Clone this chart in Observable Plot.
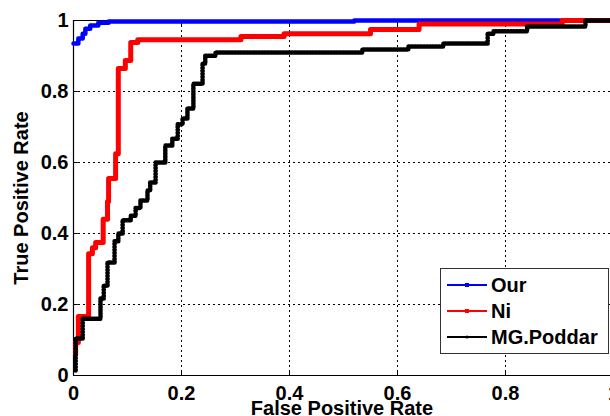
<!DOCTYPE html>
<html>
<head>
<meta charset="utf-8">
<script src="https://cdn.jsdelivr.net/npm/d3@7"></script>
<script src="https://cdn.jsdelivr.net/npm/@observablehq/plot@0.6"></script>
<style>
  html, body { margin: 0; padding: 0; background: #fff; overflow: hidden; }
  #wrap { position: relative; width: 610px; height: 416px; }
  #legend { position: absolute; left: 440px; top: 268px; width: 167px; height: 84px;
    border: 1px solid #333; background: #fff; box-sizing: content-box;
    font: bold 20px "Liberation Sans", Arial, sans-serif; color: #000; }
  .row { position: absolute; left: 0; height: 26px; display: flex; align-items: center; }
  .row svg { margin-left: 6px; margin-right: 4px; }
</style>
</head>
<body>
<div id="wrap"><div id="chart"></div><div id="legend"></div></div>
<script>
// ---- data ----
const seriesNames = ["Our", "Ni", "MG.Poddar"];
const seriesColors = ["#0000ff", "#ff0000", "#000000"];

const ourFPR = [0, 0.009, 0.017, 0.022, 0.031, 0.046, 0.065, 0.52, 1];
const ourTPR = [0.935, 0.949, 0.963, 0.977, 0.986, 0.994, 0.997, 1.0, 1.0];

const niFPR = [0.004, 0.004, 0.009, 0.028, 0.035, 0.041, 0.055, 0.063, 0.065, 0.078, 0.083, 0.096, 0.106, 0.119, 0.31, 0.39, 0.55, 0.64, 0.905, 1];
const niTPR = [0.06, 0.093, 0.166, 0.343, 0.36, 0.375, 0.44, 0.49, 0.555, 0.625, 0.865, 0.887, 0.938, 0.946, 0.955, 0.963, 0.975, 0.99, 1.0, 1.0];

const mgFPR = [0.004, 0.004, 0.017, 0.05, 0.056, 0.063, 0.076, 0.083, 0.091, 0.106, 0.115, 0.124, 0.137, 0.142, 0.152, 0.17, 0.183, 0.193, 0.202, 0.211, 0.222, 0.239, 0.244, 0.263, 0.535, 0.62, 0.685, 0.767, 0.778, 0.84, 0.948, 1];
const mgTPR = [0.014, 0.104, 0.16, 0.217, 0.253, 0.318, 0.378, 0.40, 0.437, 0.45, 0.472, 0.493, 0.521, 0.544, 0.6, 0.648, 0.667, 0.708, 0.724, 0.752, 0.822, 0.879, 0.901, 0.91, 0.918, 0.927, 0.935, 0.963, 0.97, 0.983, 1.0, 1.0];

const xTicks = [0, 0.2, 0.4, 0.6, 0.8, 1];
const yTicks = [0, 0.2, 0.4, 0.6, 0.8, 1];
const gridTicks = [0.2, 0.4, 0.6, 0.8];
const xLabel = "False Positive Rate";
const yLabel = "True Positive Rate";

const toRows = (xs, ys) => xs.map((x, i) => ({x, y: ys[i]}));
const our = toRows(ourFPR, ourTPR);
const ni = toRows(niFPR, niTPR);
const mg = toRows(mgFPR, mgTPR);

const fmt = d => String(d);

const chart = Plot.plot({
  width: 610,
  height: 416,
  marginLeft: 73,
  marginRight: 0,
  marginTop: 20,
  marginBottom: 41,
  style: {fontFamily: "'Liberation Sans', Arial, sans-serif", fontWeight: "bold", fontSize: "20px", color: "#000", background: "#fff", overflow: "hidden"},
  x: {domain: [0, 1], range: [73, 613]},
  y: {domain: [0, 1]},
  marks: [
    Plot.ruleX(gridTicks, {stroke: "#000", strokeWidth: 1, strokeDasharray: "2,3"}),
    Plot.ruleY(gridTicks, {stroke: "#000", strokeWidth: 1, strokeDasharray: "2,3"}),
    Plot.ruleX(xTicks, {y1: 0, y2: 0.014, stroke: "#000"}),
    Plot.ruleX(xTicks, {y1: 1, y2: 0.986, stroke: "#000"}),
    Plot.ruleY(yTicks, {x1: 0, x2: 0.009, stroke: "#000"}),
    Plot.ruleX([0], {stroke: "#000", strokeWidth: 1.2}),
    Plot.ruleY([0, 1], {stroke: "#000", strokeWidth: 1.2}),
    Plot.line(our, {x: "x", y: "y", curve: "step-after", stroke: seriesColors[0], strokeWidth: 4.5}),
    Plot.line(ni, {x: "x", y: "y", curve: "step-after", stroke: seriesColors[1], strokeWidth: 5}),
    Plot.line(mg, {x: "x", y: "y", curve: "step-after", stroke: seriesColors[2], strokeWidth: 2}),
    Plot.line(mg, {x: "x", y: "y", curve: "step-after", stroke: seriesColors[2], strokeWidth: 4.5, strokeDasharray: "1.5,1.5"}),
    Plot.axisX(xTicks, {tickSize: 0, tickPadding: 10, tickFormat: fmt, label: null}),
    Plot.axisY(yTicks, {tickSize: 0, tickPadding: 5, tickFormat: fmt, label: null}),
    Plot.text([xLabel], {frameAnchor: "bottom", dy: 39, lineAnchor: "bottom", textAnchor: "middle", text: d => d, fontSize: 20, fontWeight: "bold"}),
    Plot.text([yLabel], {frameAnchor: "left", dx: -46, rotate: -90, lineAnchor: "bottom", textAnchor: "middle", text: d => d, fontSize: 20, fontWeight: "bold"})
  ]
});
document.getElementById("chart").appendChild(chart);

// ---- legend ----
const legend = document.getElementById("legend");
seriesNames.forEach((name, i) => {
  const row = document.createElement("div");
  row.className = "row";
  row.style.top = (3 + i * 26) + "px";
  const marker = i < 2
    ? `<rect x="18" y="4" width="4" height="4" fill="${seriesColors[i]}"/>`
    : `<circle cx="20" cy="6" r="1.6" fill="${seriesColors[i]}"/>`;
  row.innerHTML = `<svg width="40" height="12"><line x1="0" x2="40" y1="6" y2="6" stroke="${seriesColors[i]}" stroke-width="2"/>${marker}</svg><span>${name}</span>`;
  legend.appendChild(row);
});
</script>
</body>
</html>
